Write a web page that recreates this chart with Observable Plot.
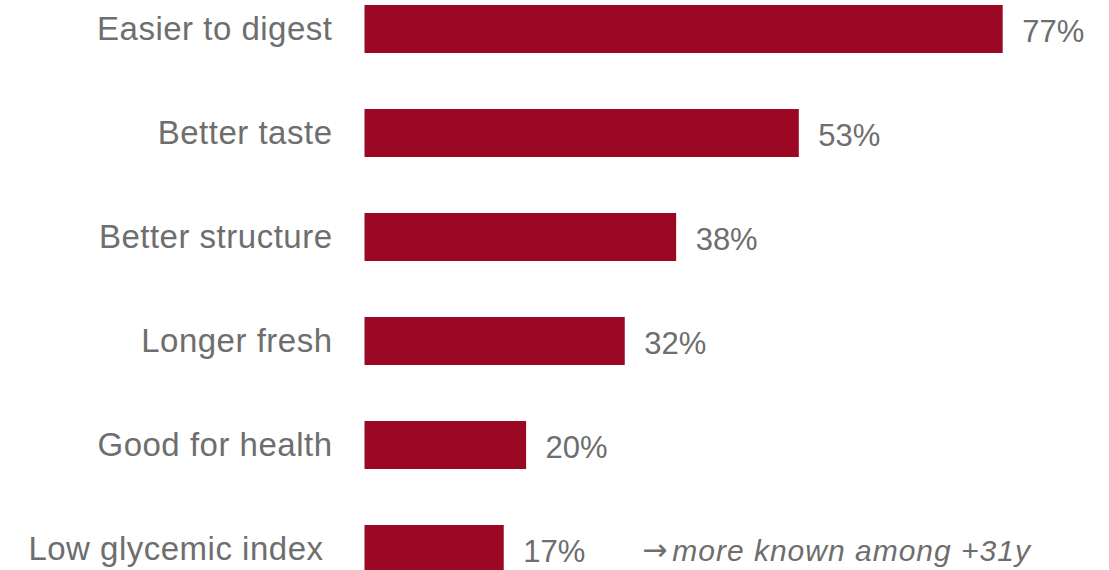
<!DOCTYPE html>
<html>
<head>
<meta charset="utf-8">
<script src="https://cdn.jsdelivr.net/npm/d3@7"></script>
<script src="https://cdn.jsdelivr.net/npm/@observablehq/plot@0.6"></script>
<style>
  html, body { margin: 0; padding: 0; background: #fff; overflow: hidden; }
  #chart { width: 1109px; height: 570px; }
</style>
</head>
<body>
<div id="chart"></div>
<script>
const categories = ["Easier to digest", "Better taste", "Better structure", "Longer fresh", "Good for health", "Low glycemic index"];
const values = [77, 52.4, 37.6, 31.4, 19.5, 16.8];
const valueLabels = ["77%", "53%", "38%", "32%", "20%", "17%"];
const noteArrow = "→";
const note = "more known among +31y";

const rows = categories.map((c, i) => ({category: c, value: values[i], label: valueLabels[i]}));
const lastRow = rows[rows.length - 1];

const barColor = "#9b0824";
const textColor = "#6e6e6e";

const chart = Plot.plot({
  width: 1109,
  height: 570,
  margin: 0,
  style: {fontFamily: "'Liberation Sans', Arial, sans-serif", color: textColor, background: "#fff", overflow: "visible", letterSpacing: "0.5px"},
  x: {domain: [0, 77], range: [364.5, 1002.7], axis: null},
  y: {domain: categories, range: [5.3, 575.3], paddingInner: 0.54, paddingOuter: 0, align: 0, axis: null},
  marks: [
    Plot.barX(rows, {x: "value", y: "category", fill: barColor}),
    Plot.text(rows.slice(0, -1), {x: 0, y: "category", text: "category", textAnchor: "end", dx: -32.5, fontSize: 33}),
    Plot.text([lastRow], {x: 0, y: "category", text: "category", textAnchor: "end", dx: -41.5, fontSize: 33}),
    Plot.text(rows, {x: "value", y: "category", text: "label", textAnchor: "start", dx: 19, dy: 3, fontSize: 31}),
    Plot.text([lastRow], {x: "value", y: "category", text: () => noteArrow, textAnchor: "start", dx: 138, dy: 1, fontSize: 30, fontFamily: "'DejaVu Sans', sans-serif"}),
    Plot.text([lastRow], {x: "value", y: "category", text: () => note, textAnchor: "start", dx: 168, dy: 2, fontSize: 30, fontStyle: "italic"})
  ]
});
const sel = d3.select(chart).selectAll("text");
sel.filter(function() { return this.textContent === note; }).attr("letter-spacing", "1px");
sel.filter(function() { return valueLabels.includes(this.textContent); }).attr("letter-spacing", "0px");
document.getElementById("chart").appendChild(chart);
</script>
</body>
</html>
